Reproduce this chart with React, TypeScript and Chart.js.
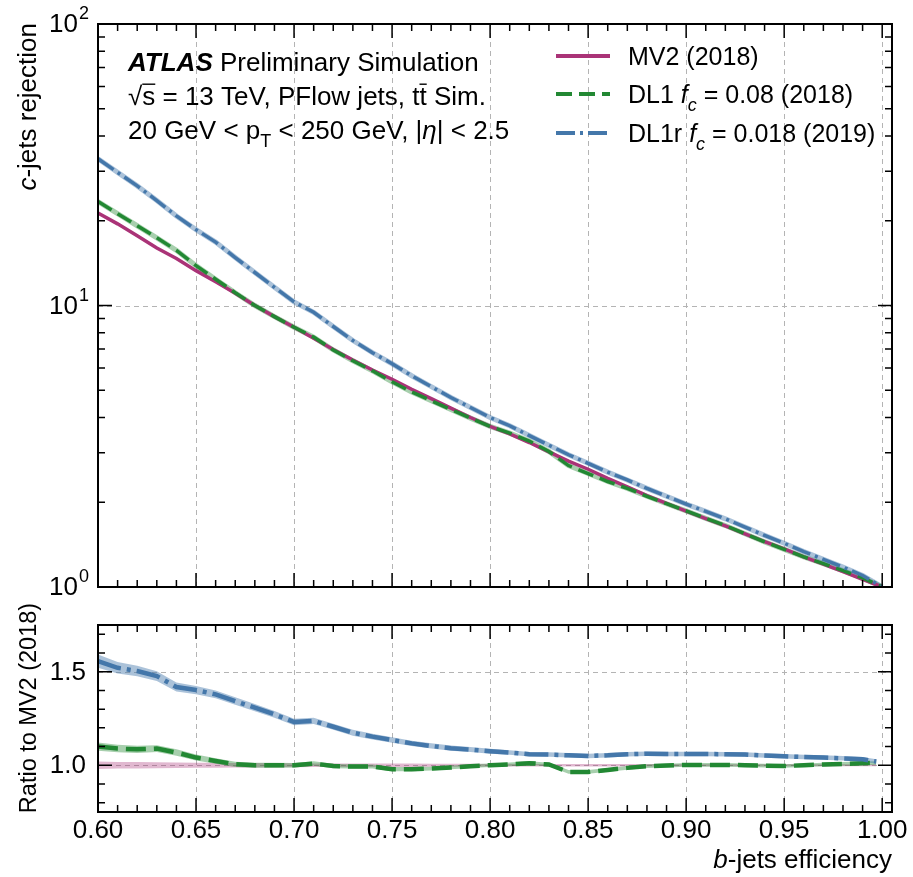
import React, { useEffect, useRef } from "react";
import { Chart, registerables } from "chart.js";
Chart.register(...registerables);

// ---------------- data ----------------
const EFF = [0.60,0.61,0.62,0.63,0.64,0.65,0.66,0.67,0.68,0.69,0.70,0.71,0.72,0.73,0.74,0.75,0.76,0.77,0.78,0.79,0.80,0.81,0.82,0.83,0.84,0.85,0.86,0.87,0.88,0.89,0.90,0.91,0.92,0.93,0.94,0.95,0.96,0.97,0.98,0.99,1.00];
const MV2_REJ = [21.3,19.5,17.7,16.0,14.7,13.3,12.15,11.05,10.0,9.13,8.37,7.65,6.98,6.40,5.90,5.47,5.04,4.67,4.32,4.00,3.72,3.50,3.26,3.02,2.80,2.62,2.43,2.27,2.11,1.98,1.86,1.75,1.65,1.545,1.45,1.365,1.28,1.205,1.135,1.065,1.0];
const DL1_REJ = [23.4,21.2,19.2,17.4,15.7,13.85,12.4,11.1,10.0,9.13,8.37,7.72,6.95,6.36,5.86,5.36,4.93,4.59,4.27,3.98,3.72,3.52,3.30,3.03,2.70,2.53,2.37,2.24,2.10,1.976,1.864,1.754,1.653,1.545,1.447,1.36,1.28,1.21,1.143,1.077,1.0];
const DL1R_REJ = [33.2,29.7,26.6,23.6,20.8,18.6,16.8,14.8,13.1,11.6,10.3,9.46,8.42,7.51,6.80,6.21,5.63,5.15,4.71,4.34,4.00,3.74,3.45,3.19,2.95,2.75,2.56,2.40,2.24,2.10,1.97,1.855,1.747,1.633,1.525,1.43,1.336,1.254,1.177,1.099,1.0];

const RATIO_EFF = [0.60,0.61,0.62,0.63,0.64,0.65,0.66,0.67,0.68,0.69,0.70,0.71,0.72,0.73,0.74,0.75,0.76,0.77,0.78,0.79,0.80,0.81,0.82,0.83,0.84,0.85,0.86,0.87,0.88,0.89,0.90,0.91,0.92,0.93,0.94,0.95,0.96,0.97,0.98,0.99,0.997];
const MV2_RATIO = [1,1,1,1,1,1,1,1,1,1,1,1,1,1,1,1,1,1,1,1,1,1,1,1,1,1,1,1,1,1,1,1,1,1,1,1,1,1,1,1,1];
const DL1_RATIO = [1.10,1.089,1.085,1.089,1.068,1.041,1.023,1.005,1.0,1.0,1.0,1.009,0.996,0.993,0.993,0.979,0.979,0.982,0.988,0.995,1.0,1.005,1.011,1.004,0.964,0.964,0.975,0.986,0.995,0.998,1.002,1.002,1.002,1.0,0.998,0.996,1.0,1.004,1.007,1.011,1.012];
const DL1R_RATIO = [1.557,1.521,1.504,1.477,1.418,1.402,1.379,1.343,1.308,1.272,1.231,1.237,1.206,1.174,1.153,1.135,1.117,1.103,1.091,1.084,1.075,1.068,1.059,1.057,1.053,1.05,1.053,1.059,1.062,1.06,1.06,1.06,1.059,1.057,1.052,1.048,1.044,1.041,1.037,1.032,1.02];
const MV2_ERR = [0.02,0.018,0.017,0.016,0.015,0.014,0.013,0.012,0.012,0.011,0.011,0.01,0.01,0.01,0.009,0.009,0.009,0.008,0.008,0.008,0.007,0.007,0.007,0.007,0.007,0.007,0.007,0.007,0.007,0.007,0.006,0.006,0.006,0.006,0.006,0.006,0.006,0.006,0.006,0.006,0.006];
const DL1_ERR = [0.022,0.02,0.019,0.018,0.017,0.016,0.015,0.014,0.013,0.013,0.012,0.012,0.012,0.011,0.011,0.011,0.011,0.01,0.01,0.01,0.01,0.01,0.01,0.01,0.01,0.01,0.01,0.01,0.01,0.01,0.01,0.01,0.01,0.01,0.01,0.01,0.01,0.01,0.01,0.01,0.01];
const DL1R_ERR = [0.035,0.031,0.028,0.026,0.024,0.022,0.021,0.02,0.019,0.018,0.017,0.017,0.016,0.016,0.015,0.015,0.014,0.014,0.014,0.013,0.013,0.012,0.012,0.012,0.012,0.012,0.012,0.012,0.012,0.012,0.012,0.012,0.012,0.012,0.012,0.012,0.012,0.012,0.012,0.012,0.012];

const X_TICKS = [0.60,0.65,0.70,0.75,0.80,0.85,0.90,0.95,1.00];
const X_TICK_LABELS = ["0.60","0.65","0.70","0.75","0.80","0.85","0.90","0.95","1.00"];
const TOP_Y_TICKS = [1, 10, 100];
const TOP_Y_EXPONENTS = ["0", "1", "2"];
const RATIO_Y_TICKS = [1.0, 1.5];
const RATIO_Y_LABELS = ["1.0", "1.5"];

// ---------------- styles ----------------
const FONT = "'Liberation Sans', Arial, Helvetica, sans-serif";
const BLUE = "#4477AA";
const GREEN = "#228833";
const PURPLE = "#AA3377";
const BLUE_L = "rgba(68,119,170,0.45)";
const GREEN_L = "rgba(34,136,51,0.40)";
const PURPLE_L = "rgba(170,51,119,0.35)";
const DASH_DL1 = [16, 7];
const DASH_DL1R = [19, 5, 3, 5];
const DASH_DL1_RATIO = [20, 8];
const DASH_DL1R_RATIO = [24, 6, 4, 6];
const W = 913;
const TOP_H = 600;
const BOT_H = 277;
const FS = 25;
const FS_TICK = 26;
const FS_ANN = 26;

type Seg = { t: string; it?: boolean; bold?: boolean; sub?: boolean; sup?: boolean; over?: boolean };

function segFont(s: Seg, size: number) {
  const sz = s.sub || s.sup ? Math.round(size * 0.7) : size;
  return `${s.it ? "italic " : ""}${s.bold ? "bold " : ""}${sz}px ${FONT}`;
}

function drawRich(ctx: CanvasRenderingContext2D, x: number, y: number, segs: Seg[], size: number, align: "left" | "right" | "center" = "left") {
  ctx.save();
  ctx.textBaseline = "alphabetic";
  ctx.textAlign = "left";
  ctx.fillStyle = "#000";
  ctx.strokeStyle = "#000";
  const widths = segs.map((s) => {
    ctx.font = segFont(s, size);
    return ctx.measureText(s.t).width;
  });
  const total = widths.reduce((a, b) => a + b, 0);
  let cx = align === "left" ? x : align === "right" ? x - total : x - total / 2;
  segs.forEach((s, i) => {
    ctx.font = segFont(s, size);
    let dy = 0;
    if (s.sub) dy = size * 0.3;
    if (s.sup) dy = -size * 0.45;
    ctx.fillText(s.t, cx, y + dy);
    if (s.over) {
      ctx.lineWidth = 1.4;
      ctx.beginPath();
      ctx.moveTo(cx, y - size * 0.8);
      ctx.lineTo(cx + widths[i], y - size * 0.8);
      ctx.stroke();
    }
    cx += widths[i];
  });
  ctx.restore();
  return total;
}

function xMinor(): number[] {
  const out: number[] = [];
  for (let i = 60; i <= 100; i++) if (i % 5 !== 0) out.push(i / 100);
  return out;
}

function frame(chart: any, opts: { xGrid: number[]; yGrid: number[]; yMajor: number[]; yMinor: number[] }, phase: "grid" | "axes") {
  const ctx: CanvasRenderingContext2D = chart.ctx;
  const a = chart.chartArea;
  const xs = chart.scales.x;
  const ys = chart.scales.y;
  ctx.save();
  if (phase === "grid") {
    ctx.strokeStyle = "#b4b4b4";
    ctx.lineWidth = 1;
    ctx.setLineDash([5, 4]);
    opts.xGrid.forEach((v) => {
      const px = Math.round(xs.getPixelForValue(v)) + 0.5;
      if (px <= a.left + 1 || px >= a.right - 1) return;
      ctx.beginPath();
      ctx.moveTo(px, a.top);
      ctx.lineTo(px, a.bottom);
      ctx.stroke();
    });
    opts.yGrid.forEach((v) => {
      const py = Math.round(ys.getPixelForValue(v)) + 0.5;
      if (py <= a.top + 1 || py >= a.bottom - 1) return;
      ctx.beginPath();
      ctx.moveTo(a.left, py);
      ctx.lineTo(a.right, py);
      ctx.stroke();
    });
  } else {
    ctx.setLineDash([]);
    ctx.strokeStyle = "#000";
    ctx.lineWidth = 1.5;
    const MAJ = 14;
    const MIN = 7;
    const tickX = (v: number, len: number) => {
      const px = xs.getPixelForValue(v);
      ctx.beginPath();
      ctx.moveTo(px, a.bottom);
      ctx.lineTo(px, a.bottom - len);
      ctx.moveTo(px, a.top);
      ctx.lineTo(px, a.top + len);
      ctx.stroke();
    };
    const tickY = (v: number, len: number) => {
      const py = ys.getPixelForValue(v);
      ctx.beginPath();
      ctx.moveTo(a.left, py);
      ctx.lineTo(a.left + len, py);
      ctx.moveTo(a.right, py);
      ctx.lineTo(a.right - len, py);
      ctx.stroke();
    };
    X_TICKS.forEach((v) => tickX(v, MAJ));
    xMinor().forEach((v) => tickX(v, MIN));
    opts.yMajor.forEach((v) => tickY(v, MAJ));
    opts.yMinor.forEach((v) => tickY(v, MIN));
    ctx.lineWidth = 2;
    ctx.strokeRect(a.left, a.top, a.right - a.left, a.bottom - a.top);
  }
  ctx.restore();
}

const TOP_MINOR: number[] = [2, 3, 4, 5, 6, 7, 8, 9, 20, 30, 40, 50, 60, 70, 80, 90];
const RATIO_MINOR: number[] = [0.8, 0.9, 1.1, 1.2, 1.3, 1.4, 1.6, 1.7];

const topDecor = {
  id: "topDecor",
  beforeDatasetsDraw(chart: any) {
    frame(chart, { xGrid: X_TICKS, yGrid: TOP_Y_TICKS, yMajor: TOP_Y_TICKS, yMinor: TOP_MINOR }, "grid");
  },
  afterDatasetsDraw(chart: any) {
    frame(chart, { xGrid: X_TICKS, yGrid: TOP_Y_TICKS, yMajor: TOP_Y_TICKS, yMinor: TOP_MINOR }, "axes");
    const ctx: CanvasRenderingContext2D = chart.ctx;
    const ys = chart.scales.y;
    TOP_Y_TICKS.forEach((v, i) => {
      const py = ys.getPixelForValue(v);
      ctx.save();
      ctx.font = `${FS_TICK}px ${FONT}`;
      ctx.fillStyle = "#000";
      ctx.textAlign = "right";
      ctx.textBaseline = "middle";
      ctx.fillText("10", 78, py + 1);
      ctx.font = `${Math.round(FS_TICK * 0.7)}px ${FONT}`;
      ctx.textAlign = "left";
      ctx.textBaseline = "alphabetic";
      ctx.fillText(TOP_Y_EXPONENTS[i], 79, py - 5);
      ctx.restore();
    });
    ctx.save();
    ctx.translate(36, 23);
    ctx.rotate(-Math.PI / 2);
    drawRich(ctx, 0, 0, [{ t: "c", it: true }, { t: "-jets rejection" }], FS_ANN, "right");
    ctx.restore();
    const ax = 128;
    drawRich(ctx, ax, 71, [{ t: "ATLAS", it: true, bold: true }, { t: " Preliminary Simulation" }], FS_ANN);
    drawRich(ctx, ax, 105, [{ t: "\u221A" }, { t: "s", over: true }, { t: " = 13 TeV, PFlow jets, t" }, { t: "t", over: true }, { t: " Sim." }], FS_ANN);
    drawRich(ctx, ax, 139, [{ t: "20 GeV < p" }, { t: "T", sub: true }, { t: " < 250 GeV, |" }, { t: "\u03B7", it: true }, { t: "| < 2.5" }], FS_ANN);
    const lx0 = 556;
    const lx1 = 610;
    const tx = 628;
    const rows = [
      { y: 56, color: PURPLE, dash: [] as number[], segs: [{ t: "MV2 (2018)" }] as Seg[] },
      { y: 94, color: GREEN, dash: DASH_DL1, segs: [{ t: "DL1 " }, { t: "f", it: true }, { t: "c", it: true, sub: true }, { t: " = 0.08 (2018)" }] as Seg[] },
      { y: 133, color: BLUE, dash: DASH_DL1R, segs: [{ t: "DL1r " }, { t: "f", it: true }, { t: "c", it: true, sub: true }, { t: " = 0.018 (2019)" }] as Seg[] },
    ];
    rows.forEach((r) => {
      ctx.save();
      ctx.strokeStyle = r.color;
      ctx.lineWidth = 4;
      ctx.setLineDash(r.dash);
      ctx.beginPath();
      ctx.moveTo(lx0, r.y);
      ctx.lineTo(lx1, r.y);
      ctx.stroke();
      ctx.restore();
      drawRich(ctx, tx, r.y + 9, r.segs, FS);
    });
  },
};

const bottomDecor = {
  id: "bottomDecor",
  beforeDatasetsDraw(chart: any) {
    frame(chart, { xGrid: X_TICKS, yGrid: RATIO_Y_TICKS, yMajor: RATIO_Y_TICKS, yMinor: RATIO_MINOR }, "grid");
  },
  afterDatasetsDraw(chart: any) {
    frame(chart, { xGrid: X_TICKS, yGrid: RATIO_Y_TICKS, yMajor: RATIO_Y_TICKS, yMinor: RATIO_MINOR }, "axes");
    const ctx: CanvasRenderingContext2D = chart.ctx;
    const xs = chart.scales.x;
    const ys = chart.scales.y;
    ctx.save();
    ctx.font = `${FS_TICK}px ${FONT}`;
    ctx.fillStyle = "#000";
    ctx.textAlign = "right";
    ctx.textBaseline = "middle";
    RATIO_Y_TICKS.forEach((v, i) => ctx.fillText(RATIO_Y_LABELS[i], 86, ys.getPixelForValue(v) + 1));
    ctx.textAlign = "center";
    X_TICKS.forEach((v, i) => ctx.fillText(X_TICK_LABELS[i], xs.getPixelForValue(v), 231));
    ctx.restore();
    drawRich(ctx, chart.chartArea.right, 268, [{ t: "b", it: true }, { t: "-jets efficiency" }], FS_ANN, "right");
    ctx.save();
    ctx.translate(36, 108);
    ctx.rotate(-Math.PI / 2);
    drawRich(ctx, 0, 0, [{ t: "Ratio to MV2 (2018)" }], 23.5, "center");
    ctx.restore();
  },
};

function pts(xs: number[], ys: number[]) {
  return xs.map((x, i) => ({ x, y: ys[i] }));
}
function band(xs: number[], ys: number[], es: number[], sign: number) {
  return xs.map((x, i) => ({ x, y: ys[i] + sign * es[i] }));
}

const lineBase = { pointRadius: 0, tension: 0, fill: false, spanGaps: true };
const CLEAR = "rgba(0,0,0,0)";

export default function App() {
  const topRef = useRef<HTMLCanvasElement>(null);
  const botRef = useRef<HTMLCanvasElement>(null);

  useEffect(() => {
    const common = {
      responsive: false,
      animation: false as const,
      devicePixelRatio: 1,
      events: [] as any[],
      plugins: { legend: { display: false }, tooltip: { enabled: false }, title: { display: false } },
    };
    const top = new Chart(topRef.current!, {
      type: "line",
      data: {
        datasets: [
          { ...lineBase, label: "DL1r fc=0.018 (2019)", data: pts(EFF, DL1R_REJ), borderColor: BLUE, borderWidth: 3.5, borderDash: DASH_DL1R, order: 0 },
          { ...lineBase, label: "DL1 fc=0.08 (2018)", data: pts(EFF, DL1_REJ), borderColor: GREEN, borderWidth: 3.5, borderDash: DASH_DL1, order: 0 },
          { ...lineBase, label: "MV2 (2018)", data: pts(EFF, MV2_REJ), borderColor: PURPLE, borderWidth: 3.5, order: 0 },
          { ...lineBase, label: "DL1r band", data: pts(EFF, DL1R_REJ), borderColor: BLUE_L, borderWidth: 5, order: 1 },
          { ...lineBase, label: "DL1 band", data: pts(EFF, DL1_REJ), borderColor: GREEN_L, borderWidth: 5, order: 1 },
        ] as any,
      },
      options: {
        ...common,
        layout: { padding: { left: 98, right: 21, top: 24, bottom: 13 } },
        scales: {
          x: { type: "linear", min: 0.6, max: 1.005, display: false },
          y: { type: "logarithmic", min: 1, max: 100, display: false },
        },
      } as any,
      plugins: [topDecor],
    });

    const bot = new Chart(botRef.current!, {
      type: "line",
      data: {
        datasets: [
          { ...lineBase, label: "DL1r ratio", data: pts(RATIO_EFF, DL1R_RATIO), borderColor: BLUE, borderWidth: 4.5, borderDash: DASH_DL1R_RATIO, order: 0 },
          { ...lineBase, label: "DL1 ratio", data: pts(RATIO_EFF, DL1_RATIO), borderColor: GREEN, borderWidth: 4.5, borderDash: DASH_DL1_RATIO, order: 0 },
          { ...lineBase, label: "DL1r up", data: band(RATIO_EFF, DL1R_RATIO, DL1R_ERR, 1), borderColor: CLEAR, borderWidth: 1, backgroundColor: BLUE_L, fill: "+1", order: 1 },
          { ...lineBase, label: "DL1r down", data: band(RATIO_EFF, DL1R_RATIO, DL1R_ERR, -1), borderColor: CLEAR, borderWidth: 1, order: 1 },
          { ...lineBase, label: "DL1 up", data: band(RATIO_EFF, DL1_RATIO, DL1_ERR, 1), borderColor: CLEAR, borderWidth: 1, backgroundColor: GREEN_L, fill: "+1", order: 1 },
          { ...lineBase, label: "DL1 down", data: band(RATIO_EFF, DL1_RATIO, DL1_ERR, -1), borderColor: CLEAR, borderWidth: 1, order: 1 },
          { ...lineBase, label: "MV2 up", data: band(RATIO_EFF, MV2_RATIO, MV2_ERR, 1), borderColor: CLEAR, borderWidth: 1, backgroundColor: PURPLE_L, fill: "+1", order: 1 },
          { ...lineBase, label: "MV2 down", data: band(RATIO_EFF, MV2_RATIO, MV2_ERR, -1), borderColor: CLEAR, borderWidth: 1, order: 1 },
        ] as any,
      },
      options: {
        ...common,
        layout: { padding: { left: 98, right: 21, top: 25, bottom: 65 } },
        scales: {
          x: { type: "linear", min: 0.6, max: 1.005, display: false },
          y: { type: "linear", min: 0.75, max: 1.75, display: false },
        },
      } as any,
      plugins: [bottomDecor],
    });

    return () => {
      top.destroy();
      bot.destroy();
    };
  }, []);

  return (
    <div style={{ position: "absolute", left: 0, top: 0, width: W, height: TOP_H + BOT_H, background: "#fff" }}>
      <canvas ref={topRef} width={W} height={TOP_H} style={{ display: "block", width: W, height: TOP_H }} />
      <canvas ref={botRef} width={W} height={BOT_H} style={{ display: "block", width: W, height: BOT_H }} />
    </div>
  );
}
